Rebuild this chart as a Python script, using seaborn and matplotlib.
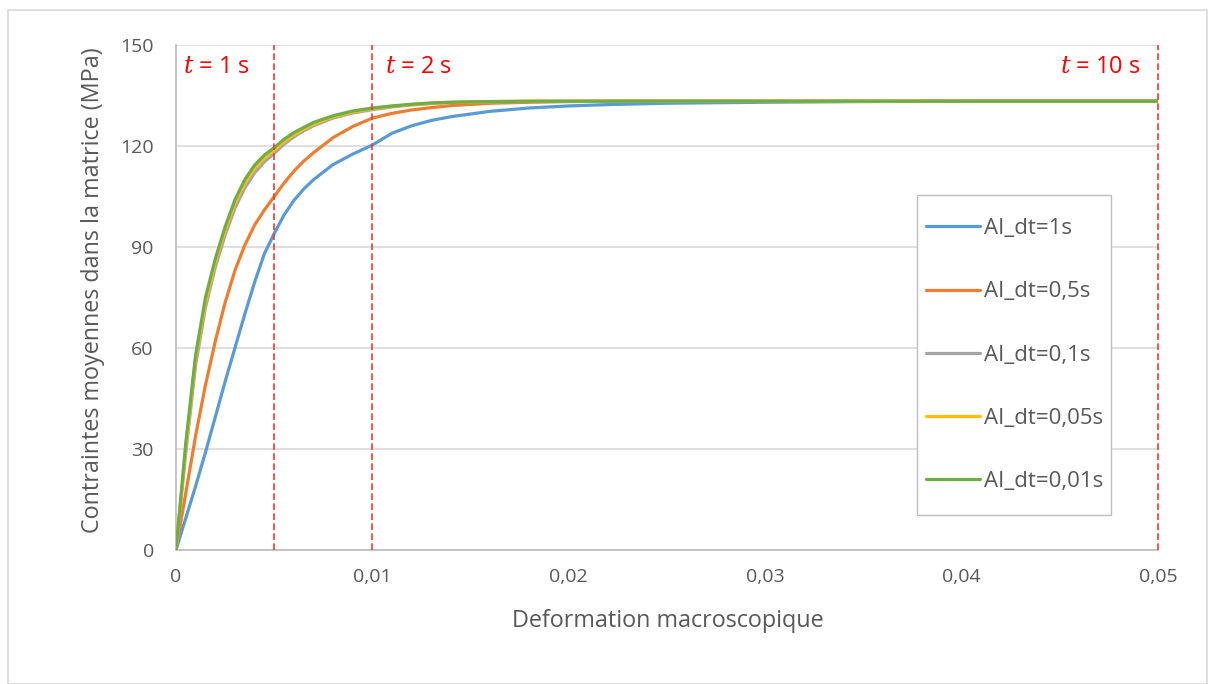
import matplotlib
matplotlib.use("Agg")
import matplotlib.pyplot as plt
import seaborn as sns
import pandas as pd
from matplotlib.ticker import FuncFormatter
from matplotlib.patches import Rectangle

strain = [0, 0.0005, 0.001, 0.0015, 0.002, 0.0025, 0.003, 0.0035, 0.004, 0.0045,
          0.005, 0.0055, 0.006, 0.0065, 0.007, 0.008, 0.009, 0.01, 0.011, 0.012,
          0.013, 0.014, 0.016, 0.018, 0.02, 0.022, 0.025, 0.03, 0.035, 0.04, 0.05]

dt_1 = [0, 9.5, 19, 29, 39.5, 50, 60, 70, 79.5, 88, 94, 99.5, 103.8, 107.2, 110,
        114.5, 117.6, 120.3, 123.8, 126, 127.6, 128.7, 130.3, 131.3, 131.9, 132.3,
        132.7, 133.0, 133.2, 133.3, 133.3]
dt_05 = [0, 17, 34, 49, 62, 73.5, 83, 90.5, 96.5, 101, 105, 109, 112.5, 115.5, 118,
         122.5, 125.8, 128.3, 129.7, 130.7, 131.4, 132, 132.7, 133, 133.2, 133.3,
         133.3, 133.3, 133.3, 133.3, 133.3]
dt_01 = [0, 29, 55, 72, 84, 93.5, 101.5, 107.5, 112, 115.3, 117.8, 120.5, 122.7, 124.5,
         126, 128.3, 129.8, 130.8, 131.6, 132.2, 132.6, 132.9, 133.1, 133.2, 133.3,
         133.3, 133.3, 133.3, 133.3, 133.3, 133.3]
dt_005 = [0, 30.5, 57, 73.5, 85.5, 95, 103, 109, 113.3, 116.5, 118.8, 121.3, 123.4, 125,
          126.5, 128.7, 130.1, 131.1, 131.8, 132.3, 132.7, 133, 133.2, 133.3, 133.3,
          133.3, 133.3, 133.3, 133.3, 133.3, 133.3]
dt_001 = [0, 32, 58, 75, 86.5, 96, 104, 110, 114.3, 117.3, 119.5, 122, 124, 125.5, 127,
          129, 130.4, 131.3, 131.9, 132.4, 132.8, 133, 133.2, 133.3, 133.3, 133.3,
          133.3, 133.3, 133.3, 133.3, 133.3]

series_names = ["AI_dt=1s", "AI_dt=0,5s", "AI_dt=0,1s", "AI_dt=0,05s", "AI_dt=0,01s"]
series_values = [dt_1, dt_05, dt_01, dt_005, dt_001]
colors = ["#5B9BD5", "#ED7D31", "#A5A5A5", "#FFC000", "#70AD47"]

marker_strains = [0.005, 0.01, 0.05]
marker_labels = ["$t$ = 1 s", "$t$ = 2 s", "$t$ = 10 s"]

x_ticks = [0, 0.01, 0.02, 0.03, 0.04, 0.05]
y_ticks = [0, 30, 60, 90, 120, 150]

rows = []
for name, vals in zip(series_names, series_values):
    for s, v in zip(strain, vals):
        rows.append({"strain": s, "stress": v, "serie": name})
df = pd.DataFrame(rows)

sns.set_style("white")
plt.rcParams["font.family"] = ["Open Sans", "DejaVu Sans"]
plt.rcParams["mathtext.fontset"] = "dejavuserif"

W, H = 1208, 684
fig = plt.figure(figsize=(W / 100, H / 100), dpi=100)
fig.patches.append(Rectangle((8 / W, 0), 1 - 9 / W, 1 - 10 / H, transform=fig.transFigure,
                             fill=False, edgecolor="#D9D9D9", linewidth=1.2))
L, R, T, B = 176, 1158, 45, 550
ax = fig.add_axes([L / W, 1 - B / H, (R - L) / W, (B - T) / H])

def ax_x(px):
    return (px - L) / (R - L)

def ax_y(py):
    return (B - py) / (B - T)

sns.lineplot(data=df, x="strain", y="stress", hue="serie", hue_order=series_names,
             palette=colors, linewidth=2.3, sort=False, estimator=None, ax=ax, zorder=3)

ax.set_xlim(0, 0.05)
ax.set_ylim(0, 150)
ax.set_xticks(x_ticks)
ax.set_yticks(y_ticks)
fmt = FuncFormatter(lambda v, p: ("%g" % round(v, 4)).replace(".", ","))
ax.xaxis.set_major_formatter(fmt)
ax.tick_params(axis="both", length=0, labelsize=14, labelcolor="#595959")
ax.tick_params(axis="x", pad=13)
ax.tick_params(axis="y", pad=16)
ax.grid(axis="y", color="#D9D9D9", linewidth=1.2)
ax.set_axisbelow(True)
for sp in ["top", "right"]:
    ax.spines[sp].set_visible(False)
for sp in ["left", "bottom"]:
    ax.spines[sp].set_color("#BFBFBF")
    ax.spines[sp].set_linewidth(1.3)

for xs in marker_strains:
    ax.axvline(xs, color="#F03A3A", linestyle=(0, (4, 2)), linewidth=1.2, zorder=4, clip_on=False)

ax.text(ax_x(183), ax_y(67), marker_labels[0], transform=ax.transAxes, color="red",
        fontsize=17, va="center", ha="left")
ax.text(ax_x(385), ax_y(67), marker_labels[1], transform=ax.transAxes, color="red",
        fontsize=17, va="center", ha="left")
ax.text(ax_x(1141), ax_y(67), marker_labels[2], transform=ax.transAxes, color="red",
        fontsize=17, va="center", ha="right")

ax.set_xlabel("Deformation macroscopique", fontsize=16.8, color="#595959")
ax.set_ylabel("Contraintes moyennes dans la matrice (MPa)", fontsize=16.8, color="#595959")
ax.xaxis.label.set_va("center")
ax.yaxis.label.set_va("center")
ax.xaxis.set_label_coords(ax_x(667.5), ax_y(621))
ax.yaxis.set_label_coords(ax_x(93), ax_y(290))

# legend frame
ax.add_patch(Rectangle((ax_x(917), ax_y(515)), ax_x(1111) - ax_x(917), ax_y(195) - ax_y(515),
                       transform=ax.transAxes, facecolor="white", edgecolor="#BFBFBF",
                       linewidth=1.0, zorder=5))
leg = ax.legend(loc="center left", bbox_to_anchor=(ax_x(926), ax_y(355)),
                borderaxespad=0, borderpad=0, frameon=False, fontsize=16,
                labelspacing=1.9, handlelength=2.45, handletextpad=0.15,
                labelcolor="#595959")
leg.set_zorder(6)
for ln in leg.get_lines():
    ln.set_linewidth(2.3)

fig.savefig("out.png", dpi=100)
